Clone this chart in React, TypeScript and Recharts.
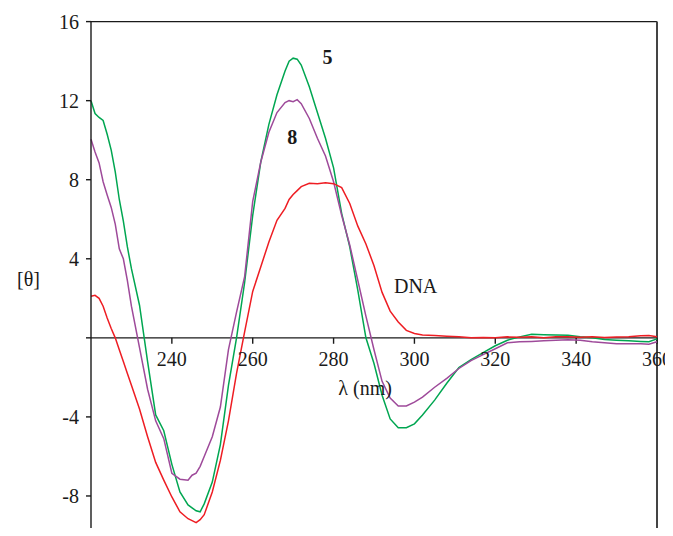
import React from "react";
import { LineChart, Line, XAxis, YAxis, ReferenceLine, ReferenceDot } from "recharts";

// CD spectra, wavelength in nm
const wavelengths = [
  220, 221, 222, 223, 224, 225, 226, 227, 228, 229,
  230, 232, 234, 236, 238, 240, 242, 244, 245, 246,
  247, 248, 250, 252, 254, 256, 258, 260, 262, 264,
  266, 268, 269, 270, 271, 272, 274, 276, 278, 280,
  282, 284, 286, 288, 290, 292, 294, 296, 298, 300,
  302, 305, 308, 311, 314, 317, 320, 323, 326, 329,
  332, 335, 338, 341, 344, 347, 350, 353, 356, 358,
  360,
];

const compound5 = [
  12.0, 11.35, 11.15, 11.0, 10.3, 9.5, 8.4, 7.0, 5.9, 4.6,
  3.5, 1.65, -1.2, -3.9, -4.7, -6.4, -7.8, -8.45, -8.6, -8.75,
  -8.8, -8.4, -7.3, -5.4, -2.4, 0.0, 2.8, 6.2, 8.9, 10.8,
  12.3, 13.5, 14.0, 14.15, 14.1, 13.8, 12.7, 11.4, 10.1, 8.6,
  6.3, 4.6, 2.4, 0.0, -1.3, -2.9, -4.1, -4.55, -4.55, -4.35,
  -3.9, -3.15, -2.3, -1.5, -1.1, -0.75, -0.4, -0.12, 0.05, 0.18,
  0.16, 0.15, 0.13, 0.05, 0.0, -0.08, -0.12, -0.15, -0.18, -0.2,
  -0.05,
];

const compound8 = [
  10.05, 9.4, 8.85, 7.9, 7.23, 6.6, 5.75, 4.5, 4.0, 2.9,
  1.6, -0.5, -2.6, -4.2, -5.1, -6.85, -7.15, -7.2, -6.95, -6.85,
  -6.5, -6.0, -5.0, -3.5, -0.6, 1.3, 3.1, 6.9, 8.9, 10.4,
  11.4, 11.9, 12.0, 11.95, 12.05, 11.85, 11.1, 10.1, 9.2, 7.9,
  6.2, 4.7, 2.9, 1.1, -0.6, -2.2, -3.05, -3.45, -3.45, -3.25,
  -3.0, -2.5, -2.05, -1.55, -1.15, -0.85, -0.55, -0.25, -0.2, -0.18,
  -0.15, -0.12, -0.1, -0.12, -0.2, -0.25, -0.3, -0.3, -0.3, -0.32,
  -0.2,
];

const dna = [
  2.1, 2.15, 2.0, 1.6, 1.0, 0.47, 0.0, -0.6, -1.2, -1.8,
  -2.4, -3.6, -5.0, -6.3, -7.2, -8.05, -8.8, -9.15, -9.25, -9.35,
  -9.2, -8.95, -7.8, -6.2, -4.2, -1.8, 0.3, 2.35, 3.6, 4.85,
  5.95, 6.55, 7.0, 7.25, 7.45, 7.65, 7.82, 7.8, 7.85, 7.8,
  7.6, 6.8, 5.65, 4.75, 3.65, 2.3, 1.35, 0.8, 0.38, 0.22,
  0.15, 0.12, 0.08, 0.05, 0.0, 0.02, 0.0, 0.05, 0.03, 0.05,
  0.0, 0.05, 0.06, 0.03, 0.05, 0.02, 0.04, 0.06, 0.1, 0.12,
  0.06,
];

const xTicks = [240, 260, 280, 300, 320, 340, 360];
const yTicks = [-8, -4, 0, 4, 8, 12, 16];

const data = wavelengths.map((w, i) => ({ w, c5: compound5[i], c8: compound8[i], dna: dna[i] }));

const FONT = "Liberation Serif";
const INK = "#1a1a1a";
const FS = 20;

export default function App() {
  return (
    <div style={{ margin: -8, fontFamily: FONT }}>
      <style>{`.recharts-wrapper text { font-family: "Liberation Serif", serif !important; }`}</style>
      <LineChart width={673} height={536} data={data} margin={{ top: 21.6, right: 16, left: 0, bottom: 0.5 }}>
        <XAxis dataKey="w" type="number" domain={[220, 360]} hide height={0} />
        <YAxis
          type="number"
          domain={[-10, 16]}
          ticks={yTicks}
          width={91}
          tickSize={5}
          tickMargin={7}
          axisLine={{ stroke: INK, strokeWidth: 1.4 }}
          tickLine={{ stroke: INK, strokeWidth: 1.4 }}
          tick={{ fill: INK, fontSize: FS }}
          tickFormatter={v => (v === 0 ? "" : String(v))}
          label={{ value: "[θ]", position: "insideLeft", offset: 17, fill: INK, fontSize: FS }}
        />
        {/* frame + zero axis */}
        <ReferenceLine y={16} stroke={INK} strokeWidth={1.4} />
        <ReferenceLine x={360} stroke="#444" strokeWidth={2} />
        <ReferenceLine y={0} stroke={INK} strokeWidth={1.4} />
        {xTicks.map(t => (
          <ReferenceLine key={"t" + t} segment={[{ x: t, y: 0 }, { x: t, y: -0.3 }]} stroke={INK} strokeWidth={1.4} />
        ))}
        {xTicks.map(t => (
          <ReferenceDot key={"l" + t} x={t} y={0} r={0} stroke="none"
            label={{ value: String(t), position: "bottom", offset: 14, fill: INK, fontSize: FS }} />
        ))}

        <Line dataKey="c5" stroke="#00A651" strokeWidth={1.5} dot={false} isAnimationActive={false} />
        <Line dataKey="c8" stroke="#9E4A9A" strokeWidth={1.5} dot={false} isAnimationActive={false} />
        <Line dataKey="dna" stroke="#EE1D23" strokeWidth={1.5} dot={false} isAnimationActive={false} />

        <ReferenceDot x={287.8} y={-2.53} r={0} stroke="none"
          label={{ value: "λ (nm)", position: "center", fill: INK, fontSize: FS }} />
        <ReferenceDot x={278.5} y={14.2} r={0} stroke="none"
          label={{ value: "5", position: "center", fill: INK, fontSize: FS, fontWeight: "bold" }} />
        <ReferenceDot x={269.8} y={10.15} r={0} stroke="none"
          label={{ value: "8", position: "center", fill: INK, fontSize: FS, fontWeight: "bold" }} />
        <ReferenceDot x={300.3} y={2.65} r={0} stroke="none"
          label={{ value: "DNA", position: "center", fill: INK, fontSize: FS }} />
      </LineChart>
    </div>
  );
}
